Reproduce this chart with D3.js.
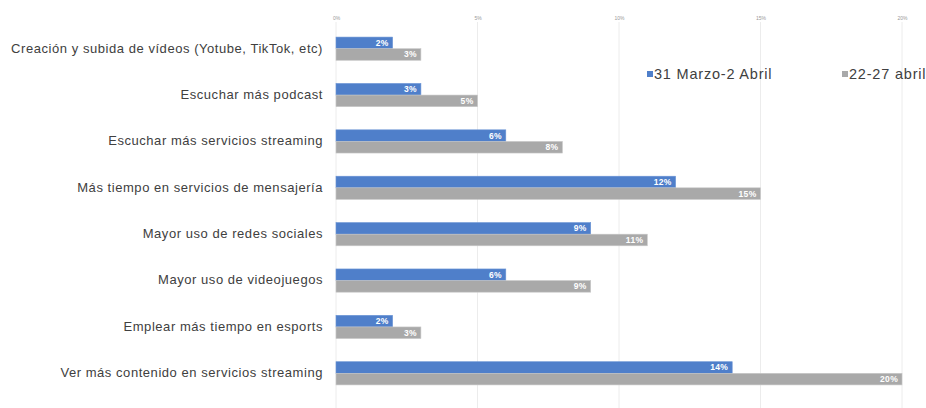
<!DOCTYPE html>
<html>
<head>
<meta charset="utf-8">
<script src="https://d3js.org/d3.v7.min.js"></script>
<style>
  body { margin: 0; background: #fff; }
  svg { font-family: "Liberation Sans", Arial, sans-serif; display: block; }
</style>
</head>
<body>
<div id="chart"></div>
<script>
// categories, top to bottom
const categories = [
    "Creación y subida de vídeos (Yotube, TikTok, etc)",
    "Escuchar más podcast",
    "Escuchar más servicios streaming",
    "Más tiempo en servicios de mensajería",
    "Mayor uso de redes sociales",
    "Mayor uso de videojuegos",
    "Emplear más tiempo en esports",
    "Ver más contenido en servicios streaming"
];
const seriesNames = ["31 Marzo-2 Abril", "22-27 abril"];
const marzo = [2, 3, 6, 12, 9, 6, 2, 14];
const abril = [3, 5, 8, 15, 11, 9, 3, 20];
const ticks = [0, 5, 10, 15, 20];

const width = 926, height = 408;
const colors = ["#4f7fca", "#a9a9a9"];

const svg = d3.select("#chart").append("svg")
    .attr("width", width)
    .attr("height", height);

const x = d3.scaleLinear().domain([0, 20]).range([336, 902]);
const y = d3.scaleBand().domain(categories).range([25.5, 396.5]);
const barH = 11.6;

// gridlines
svg.append("g")
    .selectAll("line")
    .data(ticks)
    .enter()
    .append("line")
    .attr("x1", d => x(d))
    .attr("x2", d => x(d))
    .attr("y1", 22)
    .attr("y2", height)
    .style("stroke", "#ececec")
    .style("stroke-width", "1px");

// top tick labels
const xAxis = svg.append("g")
    .attr("transform", "translate(0,20)")
    .call(d3.axisTop(x).tickValues(ticks).tickSize(0).tickPadding(0).tickFormat(d => d + "%"));
xAxis.select(".domain").remove();
xAxis.selectAll("text")
    .style("font-size", "5px")
    .style("fill", "#999")
    .style("font-family", "'Liberation Sans', Arial, sans-serif");

// category labels
svg.append("g")
    .selectAll("text")
    .data(categories)
    .enter()
    .append("text")
    .attr("x", 323)
    .attr("y", d => y(d) + y.bandwidth() / 2)
    .attr("dy", "0.3em")
    .attr("text-anchor", "end")
    .style("font-size", "13px")
    .style("letter-spacing", "0.55px")
    .style("fill", "#404040")
    .text(d => d);

const series = [marzo, abril];
series.forEach((vals, s) => {
    const g = svg.append("g");
    g.selectAll("rect")
        .data(vals)
        .enter()
        .append("rect")
        .attr("x", x(0))
        .attr("y", (d, i) => y(categories[i]) + y.bandwidth() / 2 - barH + s * barH)
        .attr("width", d => x(d) - x(0))
        .attr("height", barH)
        .style("fill", colors[s])
        .style("stroke", s ? "#c8c8c8" : "#6a93d4")
        .style("stroke-width", "0.6px");

    g.selectAll("text")
        .data(vals)
        .enter()
        .append("text")
        .attr("x", d => x(d) - 4)
        .attr("y", (d, i) => y(categories[i]) + y.bandwidth() / 2 - barH + s * barH + barH / 2)
        .attr("dy", "0.35em")
        .attr("text-anchor", "end")
        .style("font-size", "8.5px")
        .style("letter-spacing", "0.3px")
        .style("font-weight", "bold")
        .style("fill", "#fff")
        .text(d => d + "%");
});

// legend
const legendX = [647, 842];
const legend = svg.append("g")
    .selectAll("g")
    .data(seriesNames)
    .enter()
    .append("g")
    .attr("transform", (d, i) => "translate(" + legendX[i] + ",74)");
legend.append("rect")
    .attr("x", 0)
    .attr("y", -3)
    .attr("width", 6)
    .attr("height", 6)
    .style("fill", (d, i) => colors[i]);
legend.append("text")
    .attr("x", 7)
    .attr("dy", "0.36em")
    .style("font-size", "14.5px")
    .style("letter-spacing", "0.8px")
    .style("fill", "#404040")
    .text(d => d);
</script>
</body>
</html>
